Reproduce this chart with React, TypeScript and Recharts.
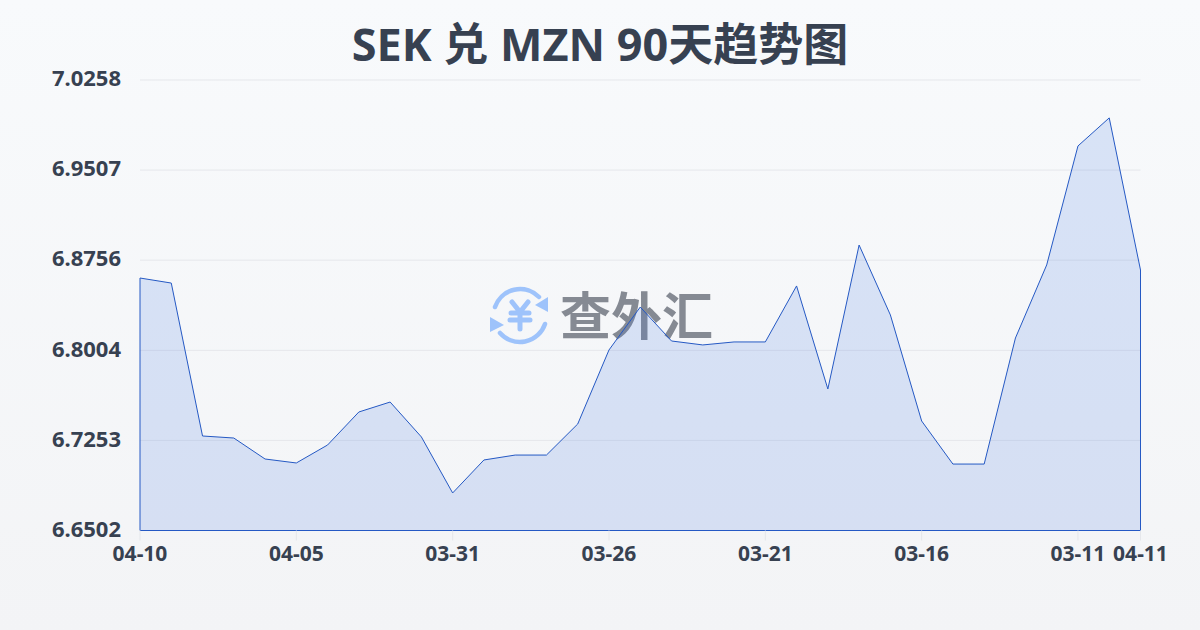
import { AreaChart, Area, XAxis, YAxis, CartesianGrid, ReferenceLine } from "recharts";

const dates = [
  "04-10", "04-09", "04-08", "04-07", "04-06", "04-05", "04-04", "04-03", "04-02", "04-01", "03-31",
  "03-30", "03-29", "03-28", "03-27", "03-26", "03-25", "03-24", "03-23", "03-22", "03-21",
  "03-20", "03-19", "03-18", "03-17", "03-16", "03-15", "03-14", "03-13", "03-12", "03-11",
  "03-10", "04-11",
];
const rates = [
  6.8607, 6.8565, 6.729, 6.7273, 6.7098, 6.7065, 6.7215, 6.749, 6.7573, 6.7282, 6.6815,
  6.709, 6.7131, 6.7131, 6.739, 6.8007, 6.8365, 6.8082, 6.8049, 6.8074, 6.8074,
  6.8541, 6.7682, 6.8882, 6.8299, 6.7415, 6.7056, 6.7056, 6.8107, 6.8716, 6.9708,
  6.9942, 6.8674,
];
const xTicks = ["04-10", "04-05", "03-31", "03-26", "03-21", "03-16", "03-11", "04-11"];
const yTicks = [6.6502, 6.7253, 6.8004, 6.8756, 6.9507, 7.0258];

const data = dates.map((date, i) => ({ date, rate: rates[i] }));

const LINE = "#2559c4";
const TEXT = "#374151";
const FONT = '"Noto Sans", "Noto Sans CJK SC", sans-serif';

function Logo() {
  return (
    <svg width={70} height={70} viewBox="0 0 70 70" style={{ position: "absolute", left: 485, top: 280 }}>
      <g fill="none" stroke="#9ec3fb" strokeWidth={4.5} strokeLinecap="round">
        <path d="M10 27 A26.5 26.5 0 0 1 54 17" />
        <path d="M60 44 A26.5 26.5 0 0 1 15 53" />
        <path d="M27 22 L35 32 L43 22 M26 33 H44 M25 40 H45 M35 32 V49" strokeWidth={5} />
      </g>
      <path d="M63 17 L63 32 L50 25 Z" fill="#9ec3fb" />
      <path d="M5 37 L5 52 L19 45 Z" fill="#9ec3fb" />
    </svg>
  );
}

export default function App() {
  return (
    <div
      style={{
        position: "fixed",
        left: 0,
        top: 0,
        width: 1200,
        height: 630,
        overflow: "hidden",
        background: "linear-gradient(180deg, #f8fafc 0%, #f3f4f6 100%)",
        fontFamily: FONT,
      }}
    >
      <div
        style={{
          position: "absolute",
          left: 0,
          top: 12,
          width: 1200,
          textAlign: "center",
          fontSize: 45,
          lineHeight: "64px",
          fontWeight: 700,
          color: TEXT,
        }}
      >
        SEK 兑 MZN 90天趋势图
      </div>
      <Logo />
      <div
        style={{
          position: "absolute",
          left: 560,
          top: 279,
          fontSize: 51,
          lineHeight: "72px",
          fontWeight: 700,
          color: "#858a93",
          whiteSpace: "nowrap",
        }}
      >
        查外汇
      </div>
      <AreaChart
        width={1200}
        height={630}
        data={data}
        margin={{ top: 80, right: 59.5, bottom: 59.5, left: 0 }}
        style={{ position: "absolute", left: 0, top: 0 }}
      >
        <CartesianGrid vertical={false} stroke="#e5e7eb" strokeWidth={1} />
        <XAxis
          dataKey="date"
          scale="point"
          height={40}
          padding={{ left: 0, right: 0 }}
          ticks={xTicks}
          interval={0}
          axisLine={false}
          tickSize={10}
          tickLine={{ stroke: "#e5e7eb" }}
          tickMargin={6}
          tick={{ fontSize: 21, fontWeight: 700, fill: TEXT, fontFamily: FONT }}
        />
        <YAxis
          type="number"
          width={140}
          domain={[6.6502, 7.0258]}
          ticks={yTicks}
          interval={0}
          axisLine={false}
          tickLine={false}
          tickMargin={13}
          tickFormatter={(v: number) => v.toFixed(4)}
          tick={{ fontSize: 22, fontWeight: 700, fill: TEXT, fontFamily: FONT, dy: -1.5 }}
        />
        <Area
          type="linear"
          dataKey="rate"
          baseValue={6.6502}
          stroke={LINE}
          strokeWidth={1}
          fill="#3f74e0"
          fillOpacity={0.17}
          isAnimationActive={false}
          dot={false}
          activeDot={false}
        />
        <ReferenceLine
          segment={[{ x: dates[0], y: yTicks[0] }, { x: dates[0], y: rates[0] }]}
          stroke={LINE}
          strokeWidth={1}
        />
        <ReferenceLine
          segment={[
            { x: dates[dates.length - 1], y: yTicks[0] },
            { x: dates[dates.length - 1], y: rates[rates.length - 1] },
          ]}
          stroke={LINE}
          strokeWidth={1}
        />
        <ReferenceLine y={yTicks[0]} stroke={LINE} strokeWidth={1} />
      </AreaChart>
    </div>
  );
}
